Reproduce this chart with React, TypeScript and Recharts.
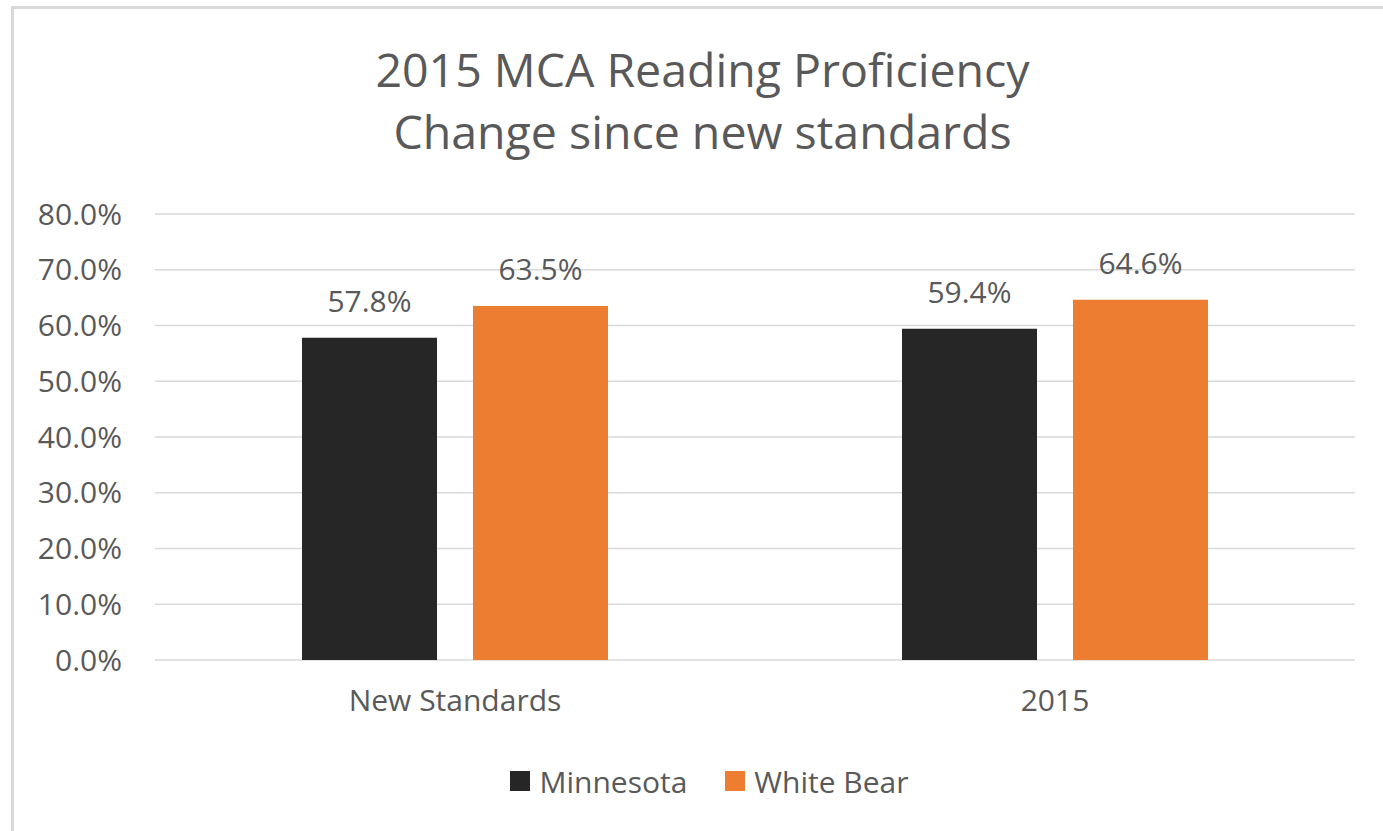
import { Bar, BarChart, CartesianGrid, LabelList, Legend, XAxis, YAxis } from 'recharts';

const categories = ['New Standards', '2015'];
const minnesota = [57.8, 59.4];
const whiteBear = [63.5, 64.6];
const yTicks = [0, 10, 20, 30, 40, 50, 60, 70, 80];

const seriesInfo = [
  { key: 'minnesota', name: 'Minnesota', color: '#262626' },
  { key: 'whiteBear', name: 'White Bear', color: '#ED7D31' },
];

const FONT = '"Open Sans", "Noto Sans", sans-serif';
const TEXT = '#595959';

const chartData = categories.map((name, i) => ({
  name,
  minnesota: minnesota[i],
  whiteBear: whiteBear[i],
}));

function pct(v: number): string {
  return `${Number(v).toFixed(1)}%`;
}

function LegendContent() {
  return (
    <div
      style={{
        height: 40,
        display: 'flex',
        alignItems: 'center',
        justifyContent: 'center',
        paddingLeft: 64,
        fontFamily: FONT,
        fontSize: 30,
        color: TEXT,
      }}
    >
      {seriesInfo.map((s, i) => (
        <div key={s.key} style={{ display: 'flex', alignItems: 'center', marginLeft: i > 0 ? 38 : 0 }}>
          <span style={{ width: 20, height: 20, background: s.color, marginRight: 9, display: 'inline-block' }} />
          <span>{s.name}</span>
        </div>
      ))}
    </div>
  );
}

export default function App() {
  return (
    <div
      style={{
        position: 'fixed',
        left: 0,
        top: 0,
        width: 1383,
        height: 831,
        overflow: 'hidden',
        background: '#fff',
      }}
    >
      <div
        style={{
          position: 'absolute',
          left: 11,
          top: 6,
          width: 1420,
          height: 900,
          borderLeft: '3px solid #d9d9d9',
          borderTop: '3px solid #d9d9d9',
        }}
      />
      <div
        style={{
          position: 'absolute',
          left: 11,
          top: 38,
          width: 1383,
          textAlign: 'center',
          fontFamily: FONT,
          fontSize: 46.5,
          lineHeight: '62px',
          color: TEXT,
        }}
      >
        <div>2015 MCA Reading Proficiency</div>
        <div>Change since new standards</div>
      </div>
      <div style={{ position: 'absolute', left: 0, top: 0 }}>
        <BarChart
          width={1383}
          height={831}
          data={chartData}
          margin={{ top: 214, right: 28, left: 0, bottom: 30 }}
          barSize={135}
          barGap={36}
        >
          <CartesianGrid vertical={false} stroke="#d9d9d9" strokeWidth={1.5} />
          <XAxis
            dataKey="name"
            axisLine={false}
            tickLine={false}
            tickSize={0}
            tickMargin={30}
            height={101}
            tick={{ fill: TEXT, fontSize: 30, fontFamily: FONT }}
          />
          <YAxis
            domain={[0, 80]}
            ticks={yTicks}
            axisLine={false}
            tickLine={false}
            tickSize={0}
            tickMargin={33}
            width={155}
            tickFormatter={pct}
            tick={{ fill: TEXT, fontSize: 30, fontFamily: FONT }}
          />
          <Legend verticalAlign="bottom" content={<LegendContent />} />
          {seriesInfo.map((s) => (
            <Bar key={s.key} dataKey={s.key} name={s.name} fill={s.color} isAnimationActive={false}>
              <LabelList
                dataKey={s.key}
                position="top"
                offset={26}
                formatter={(v: any) => pct(v)}
                style={{ fill: TEXT, fontSize: 30, fontFamily: FONT }}
              />
            </Bar>
          ))}
        </BarChart>
      </div>
    </div>
  );
}
